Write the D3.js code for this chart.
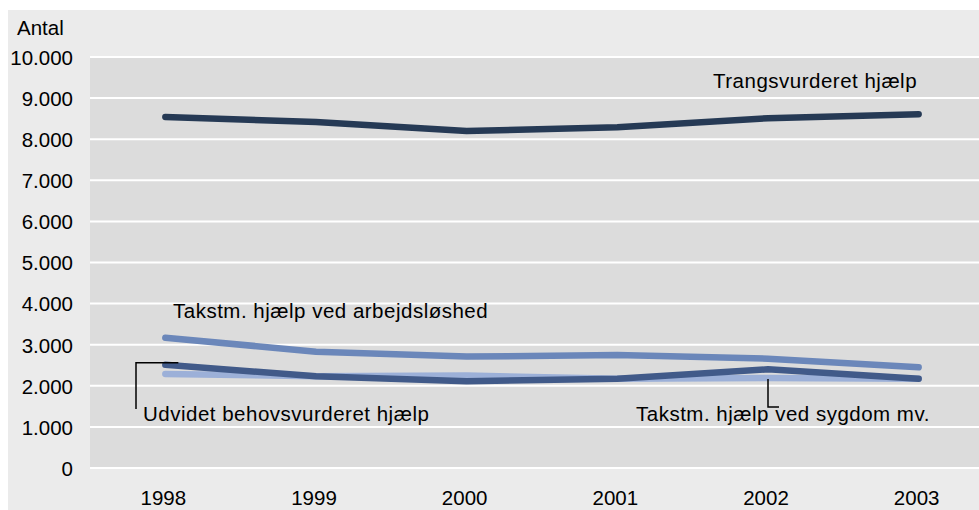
<!DOCTYPE html>
<html><head><meta charset="utf-8">
<script src="https://cdn.jsdelivr.net/npm/d3@7"></script>
<style>
html,body{margin:0;padding:0;background:#fff;}
svg{display:block;font-family:"Liberation Sans",Arial,sans-serif;}
</style></head>
<body>
<svg id="chart" width="979" height="510"></svg>
<script>
const years = ["1998","1999","2000","2001","2002","2003"];
const trangsvurderet = [8540, 8420, 8200, 8290, 8510, 8610];
const arbejdsloshed = [3170, 2830, 2710, 2750, 2660, 2450];
const udvidet = [2510, 2230, 2110, 2170, 2400, 2170];
const sygdom = [2290, 2230, 2250, 2170, 2190, 2170];
const yTicks = [0,1000,2000,3000,4000,5000,6000,7000,8000,9000,10000];
const yTitle = "Antal";
const labels = {
  trangs: "Trangsvurderet hjælp",
  arb: "Takstm. hjælp ved arbejdsløshed",
  udv: "Udvidet behovsvurderet hjælp",
  syg: "Takstm. hjælp ved sygdom mv."
};

const svg = d3.select("#chart");
const W = 979, H = 510;
const plot = {left: 90, top: 57, bottom: 468, right: 994};
const fs = "20.5px";

svg.append("rect").attr("x", 8).attr("y", 10).attr("width", W - 8).attr("height", H - 10).attr("fill", "#ebebeb");

const x = d3.scaleBand().domain(years).range([plot.left, plot.right]).padding(0);
const y = d3.scaleLinear().domain([0, 10000]).range([plot.bottom, plot.top]);

svg.append("rect").attr("x", plot.left).attr("y", y(10000)).attr("width", W - plot.left).attr("height", y(0) - y(10000)).attr("fill", "#dcdcdc");

const loc = d3.formatLocale({decimal: ",", thousands: ".", grouping: [3], currency: ["", ""]});
const fmt = loc.format(",");

// gridlines
svg.append("g").selectAll("line").data(yTicks).join("line")
  .attr("x1", plot.left).attr("x2", W)
  .attr("y1", d => y(d)).attr("y2", d => y(d))
  .attr("stroke", "#ffffff").attr("stroke-width", 2);

// y axis labels
const yAxis = d3.axisLeft(y).tickValues(yTicks).tickFormat(fmt).tickSize(0).tickPadding(17);
const ya = svg.append("g").attr("transform", `translate(${plot.left},0)`).call(yAxis);
ya.select(".domain").remove();
ya.selectAll("text").attr("font-size", fs).attr("font-family", "Liberation Sans, Arial, sans-serif").attr("fill", "#000").attr("dy", "0.36em");

// x axis labels
const xAxis = d3.axisBottom(x).tickSize(0).tickPadding(0);
const xa = svg.append("g").attr("transform", `translate(-2,${plot.bottom})`).call(xAxis);
xa.select(".domain").remove();
xa.selectAll("text").attr("font-size", fs).attr("font-family", "Liberation Sans, Arial, sans-serif").attr("fill", "#000").attr("dy", null).attr("y", 37);

svg.append("text").attr("x", 17).attr("y", 35).attr("font-size", fs).attr("fill", "#000").text(yTitle);

const line = d3.line().x((d, i) => x(years[i]) + x.bandwidth() / 2).y(d => y(d));
const series = [
  {data: sygdom, color: "#9cb0d8"},
  {data: udvidet, color: "#415a89"},
  {data: arbejdsloshed, color: "#6b87ba"},
  {data: trangsvurderet, color: "#263a55"}
];
svg.append("g").selectAll("path").data(series).join("path")
  .attr("d", d => line(d.data))
  .attr("fill", "none").attr("stroke", d => d.color)
  .attr("stroke-width", 6.5).attr("stroke-linecap", "round").attr("stroke-linejoin", "round");

// leader lines
const cx = i => x(years[i]) + x.bandwidth() / 2;
svg.append("path")
  .attr("d", `M${cx(0) + 13},${y(udvidet[0]) - 2}H136V409`)
  .attr("fill", "none").attr("stroke", "#000").attr("stroke-width", 1.5);
svg.append("path")
  .attr("d", `M${cx(4)},${y(sygdom[4]) + 1}V407H779`)
  .attr("fill", "none").attr("stroke", "#000").attr("stroke-width", 1.5);

// labels
const lab = [
  {t: labels.trangs, x: 713, y: 88},
  {t: labels.arb, x: 173, y: 318},
  {t: labels.udv, x: 143, y: 421},
  {t: labels.syg, x: 636, y: 421}
];
svg.append("g").selectAll("text").data(lab).join("text")
  .attr("x", d => d.x).attr("y", d => d.y).attr("font-size", fs)
  .attr("letter-spacing", "0.5px").attr("fill", "#000").text(d => d.t);
</script>
</body></html>
